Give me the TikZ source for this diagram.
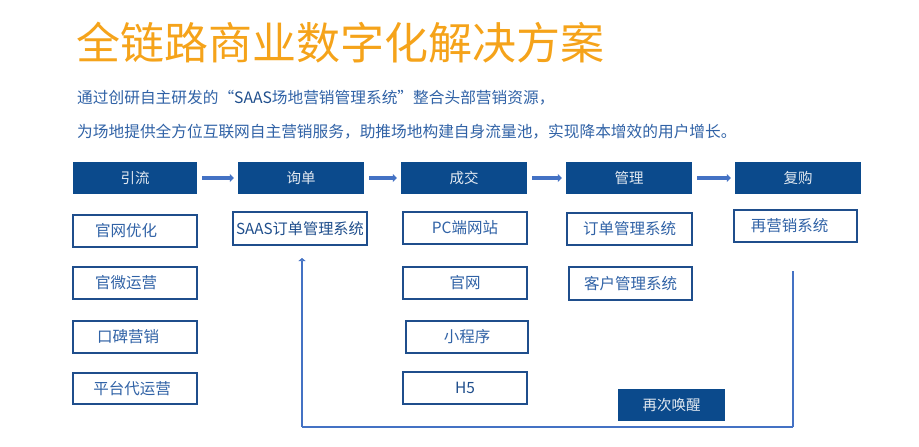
\documentclass[tikz,border=0pt]{standalone}
\usepackage{fontspec}
\setmainfont{Noto Sans CJK SC}
\usetikzlibrary{arrows.meta}
\definecolor{hdr}{HTML}{0B4A8C}
\definecolor{bordc}{HTML}{1F4E8C}
\definecolor{txtc}{HTML}{3062A6}
\definecolor{arrc}{HTML}{4472C4}
\definecolor{ttl}{HTML}{F5A31A}
\newcommand{\txtleft}[2]{#2\hspace*{#1}}
\tikzset{
  hbox/.style={fill=hdr, draw=none, text=white!88!hdr, minimum width=126pt, minimum height=32pt, inner sep=0pt, font=\fontsize{14.5}{16}\selectfont},
  sbox/.style={draw=bordc, line width=1.1pt, fill=white, text=txtc, minimum width=124pt, minimum height=32pt, inner sep=0pt, font=\fontsize{15.5}{17}\selectfont},
  flow/.style={draw=arrc, line width=3.6pt, -{Triangle[length=4pt,width=8pt]}, shorten <=5pt, shorten >=4pt},
  loopline/.style={draw=arrc, line width=2.8pt},
}
\begin{document}
\begin{tikzpicture}[x=1pt,y=-1pt]
\useasboundingbox (0,0) rectangle (919,447);
% title
\node[anchor=west, text=ttl, font=\fontsize{44}{46}\selectfont, inner sep=0pt] (title) at (76,43) {全链路商业数字化解决方案};
\node[anchor=west, text=txtc, font=\fontsize{15.7}{17}\selectfont, inner sep=0pt] (line1) at (77,98) {通过创研自主研发的“\textcolor{bordc}{SAAS}场地营销管理系统”整合头部营销资源，};
\node[anchor=west, text=txtc, font=\fontsize{15.7}{17}\selectfont, inner sep=0pt] (line2) at (77,132) {为场地提供全方位互联网自主营销服务，助推场地构建自身流量池，实现降本增效的用户增长。};
% headers
\node[hbox, minimum width=124pt] (h1) at (135,178) {引流};
\node[hbox] (h2) at (301,178) {询单};
\node[hbox] (h3) at (464,178) {成交};
\node[hbox] (h4) at (629,178) {管理};
\node[hbox] (h5) at (798,178) {复购};
% flow arrows
\draw[flow] (h1.east) -- (h2.west);
\draw[flow] (h2.east) -- (h3.west);
\draw[flow] (h3.east) -- (h4.west);
\draw[flow] (h4.east) -- (h5.west);
% column 1
\node[sbox] (a1) at (135,231) {\txtleft{18pt}{官网优化}};
\node[sbox] (a2) at (135,283) {\txtleft{18pt}{官微运营}};
\node[sbox] (a3) at (135,337) {\txtleft{14pt}{口碑营销}};
\node[sbox, minimum height=31pt] (a4) at (135,388.5) {\txtleft{6pt}{平台代运营}};
% column 2
\node[sbox, minimum width=134pt, minimum height=33pt, text=bordc, font=\fontsize{15.2}{17}\selectfont] (b1) at (300,228.5) {SAAS订单管理系统};
% column 3
\node[sbox] (c1) at (465,228) {PC端网站};
\node[sbox] (c2) at (465,283) {官网};
\node[sbox, minimum width=122pt] (c3) at (467,337) {小程序};
\node[sbox, text=bordc] (c4) at (465,388) {H5};
% column 4
\node[sbox, minimum width=125pt] (d1) at (629.5,229) {订单管理系统};
\node[sbox, minimum width=123pt, minimum height=33pt] (d2) at (630.5,283.5) {客户管理系统};
% column 5
\node[sbox, minimum width=123pt] (e1) at (795.5,226) {\txtleft{12pt}{再营销系统}};
% reawaken
\node[hbox, minimum width=107pt] (w) at (671.5,405) {再次唤醒};
% loop
\coordinate (ls) at (793,271);
\coordinate (lc1) at (793,427);
\coordinate (lc2) at (302,427);
\coordinate (le) at (302,258);
\draw[loopline] (ls) -- (lc1);
\draw[loopline, line width=2.3pt] (lc1) -- (lc2);
\draw[loopline, -{Triangle[length=3pt,width=7pt]}] (lc2) -- (le);
\end{tikzpicture}
\end{document}
